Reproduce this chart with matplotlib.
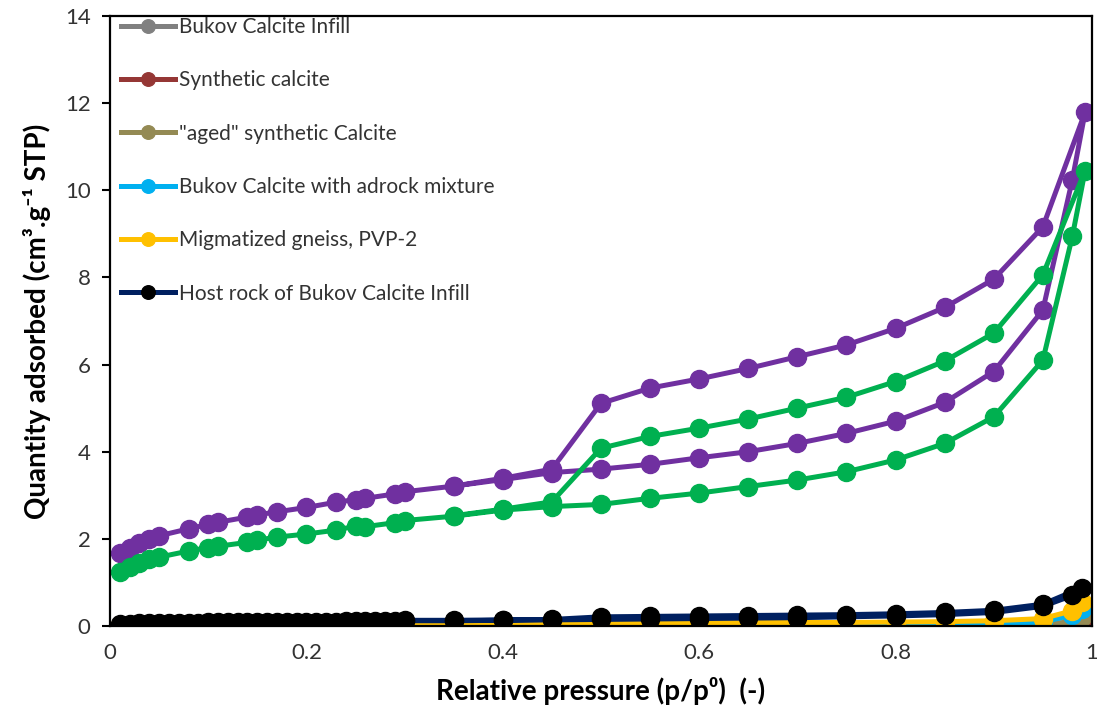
import matplotlib
matplotlib.use("Agg")
import matplotlib.pyplot as plt

plt.rcParams['font.family'] = ['Lato', 'DejaVu Sans']

# --- low-uptake samples (legend series) ---
p_low = [0.01, 0.02, 0.03, 0.04, 0.05, 0.08, 0.10, 0.11, 0.14, 0.15, 0.17, 0.20, 0.23, 0.25, 0.26,
         0.29, 0.30, 0.35, 0.40, 0.45, 0.50, 0.55, 0.60, 0.65, 0.70, 0.75, 0.80, 0.85, 0.90, 0.95,
         0.98, 0.99]
bukov_infill = [0.01, 0.01, 0.01, 0.01, 0.01, 0.01, 0.01, 0.01, 0.01, 0.01, 0.01, 0.01, 0.01, 0.01, 0.01,
                0.01, 0.01, 0.01, 0.01, 0.01, 0.01, 0.01, 0.01, 0.01, 0.01, 0.01, 0.02, 0.02, 0.03, 0.04,
                0.09, 0.15]
synthetic = [0.0, 0.0, 0.0, 0.0, 0.0, 0.0, 0.0, 0.0, 0.0, 0.0, 0.0, 0.0, 0.0, 0.0, 0.0,
             0.0, 0.0, 0.0, 0.0, 0.0, 0.0, 0.0, 0.0, 0.0, 0.0, 0.01, 0.01, 0.01, 0.02, 0.03,
             0.07, 0.12]
aged = [0.0, 0.0, 0.0, 0.0, 0.0, 0.0, 0.0, 0.0, 0.0, 0.0, 0.0, 0.0, 0.0, 0.0, 0.0,
        0.0, 0.0, 0.0, 0.0, 0.0, 0.0, 0.0, 0.0, 0.0, 0.01, 0.01, 0.01, 0.02, 0.02, 0.03,
        0.10, 0.20]
bukov_adrock = [0.0, 0.0, 0.0, 0.01, 0.01, 0.01, 0.01, 0.01, 0.01, 0.01, 0.01, 0.01, 0.01, 0.02, 0.02,
                0.02, 0.02, 0.02, 0.02, 0.03, 0.03, 0.03, 0.03, 0.03, 0.04, 0.04, 0.04, 0.05, 0.06, 0.09,
                0.25, 0.40]
gneiss = [0.02, 0.02, 0.03, 0.03, 0.03, 0.03, 0.03, 0.04, 0.04, 0.04, 0.04, 0.04, 0.04, 0.05, 0.05,
          0.05, 0.05, 0.06, 0.06, 0.06, 0.07, 0.07, 0.07, 0.08, 0.08, 0.08, 0.09, 0.10, 0.12, 0.17,
          0.35, 0.55]

# host rock: adsorption then desorption in one run
p_host = [0.01, 0.02, 0.03, 0.04, 0.05, 0.06, 0.07, 0.08, 0.09, 0.10, 0.11, 0.12, 0.13, 0.14, 0.15,
          0.16, 0.17, 0.18, 0.19, 0.20, 0.21, 0.22, 0.23, 0.24, 0.25, 0.26, 0.27, 0.28, 0.29, 0.30,
          0.35, 0.40, 0.45, 0.50, 0.55, 0.60, 0.65, 0.70, 0.75, 0.80, 0.85, 0.90, 0.95, 0.98, 0.99,
          0.95, 0.90, 0.85, 0.80, 0.75, 0.70, 0.65, 0.60, 0.55, 0.50, 0.45, 0.40, 0.35, 0.30]
host_rock = [0.05, 0.05, 0.06, 0.06, 0.06, 0.07, 0.07, 0.07, 0.07, 0.08, 0.08, 0.08, 0.08, 0.08, 0.09,
             0.09, 0.09, 0.09, 0.10, 0.10, 0.10, 0.10, 0.10, 0.11, 0.11, 0.11, 0.11, 0.12, 0.12, 0.12,
             0.12, 0.13, 0.14, 0.15, 0.16, 0.17, 0.18, 0.19, 0.21, 0.23, 0.26, 0.31, 0.45, 0.70, 0.88,
             0.50, 0.36, 0.31, 0.28, 0.26, 0.25, 0.24, 0.23, 0.22, 0.21, 0.15, 0.14, 0.13, 0.13]

# --- high-uptake isotherms (not in legend): adsorption then desorption ---
p_loop = [0.01, 0.02, 0.03, 0.04, 0.05, 0.08, 0.10, 0.11, 0.14, 0.15, 0.17, 0.20, 0.23, 0.25, 0.26,
          0.29, 0.30, 0.35, 0.40, 0.45, 0.50, 0.55, 0.60, 0.65, 0.70, 0.75, 0.80, 0.85, 0.90, 0.95,
          0.98, 0.993,
          0.95, 0.90, 0.85, 0.80, 0.75, 0.70, 0.65, 0.60, 0.55, 0.50, 0.45, 0.40, 0.35]
purple = [1.67, 1.80, 1.90, 1.99, 2.07, 2.23, 2.33, 2.38, 2.50, 2.55, 2.62, 2.72, 2.84, 2.90, 2.93,
          3.03, 3.08, 3.21, 3.36, 3.52, 3.60, 3.71, 3.86, 4.00, 4.19, 4.42, 4.70, 5.13, 5.84, 7.25,
          10.24, 11.79,
          9.16, 7.96, 7.31, 6.83, 6.45, 6.18, 5.91, 5.67, 5.46, 5.11, 3.60, 3.39, 3.21]
green = [1.25, 1.36, 1.45, 1.53, 1.58, 1.72, 1.80, 1.83, 1.92, 1.97, 2.04, 2.11, 2.20, 2.29, 2.28,
         2.37, 2.42, 2.52, 2.66, 2.74, 2.79, 2.93, 3.05, 3.20, 3.35, 3.54, 3.81, 4.19, 4.80, 6.10,
         8.94, 10.45,
         8.06, 6.72, 6.08, 5.61, 5.25, 5.00, 4.75, 4.54, 4.35, 4.08, 2.85, 2.68, 2.53]

fig = plt.figure(figsize=(10.97, 7.23), dpi=100)
ax = fig.add_axes([0.1003, 0.1342, 0.8951, 0.8437])

lw = 3.6
ms = 13
ax.plot(p_low, bukov_infill, color='#808080', marker='o', ms=ms, lw=lw, label='Bukov Calcite Infill')
ax.plot(p_low, synthetic, color='#953735', marker='o', ms=ms, lw=lw, label='Synthetic calcite')
ax.plot(p_low, aged, color='#948A54', marker='o', ms=ms, lw=lw, label='"aged" synthetic Calcite')
ax.plot(p_low, bukov_adrock, color='#00B0F0', marker='o', ms=ms, lw=lw, label='Bukov Calcite with adrock mixture')
ax.plot(p_low, gneiss, color='#FFC000', marker='o', ms=ms, lw=lw, label='Migmatized gneiss, PVP-2')
ax.plot(p_host, host_rock, color='#002060', marker='o', mfc='black', mec='black', ms=ms, lw=lw,
        label='Host rock of Bukov Calcite Infill')
ax.plot(p_loop, purple, color='#7030A0', marker='o', ms=ms, lw=lw, label='_nolegend_')
ax.plot(p_loop, green, color='#00B050', marker='o', ms=ms, lw=lw, label='_nolegend_')

ax.set_xlim(0, 1)
ax.set_ylim(0, 14)
ax.set_xticks([0, 0.2, 0.4, 0.6, 0.8, 1])
ax.set_xticklabels(['0', '0.2', '0.4', '0.6', '0.8', '1'])
ax.set_yticks(range(0, 15, 2))
ax.tick_params(axis='x', length=0, pad=12, labelsize=16, labelcolor='#333333')
ax.tick_params(axis='y', length=6, width=1.5, direction='out', labelsize=16, labelcolor='#333333', pad=8)
for s in ax.spines.values():
    s.set_linewidth(1.6)
    s.set_color('black')

ax.set_xlabel('Relative pressure (p/p\u2070)  (-)', fontsize=20, fontweight='bold', labelpad=10)
ax.set_ylabel('Quantity adsorbed (cm\u00b3.g\u207b\u00b9 STP)', fontsize=20, fontweight='bold', labelpad=10)

leg = ax.legend(loc='upper left', frameon=False, fontsize=15, labelspacing=1.6, handlelength=2.6,
                handletextpad=0.15, borderaxespad=0.0, bbox_to_anchor=(0.003, 1.012),
                markerscale=0.75, labelcolor='#333333')

fig.savefig('out.png', dpi=100)
